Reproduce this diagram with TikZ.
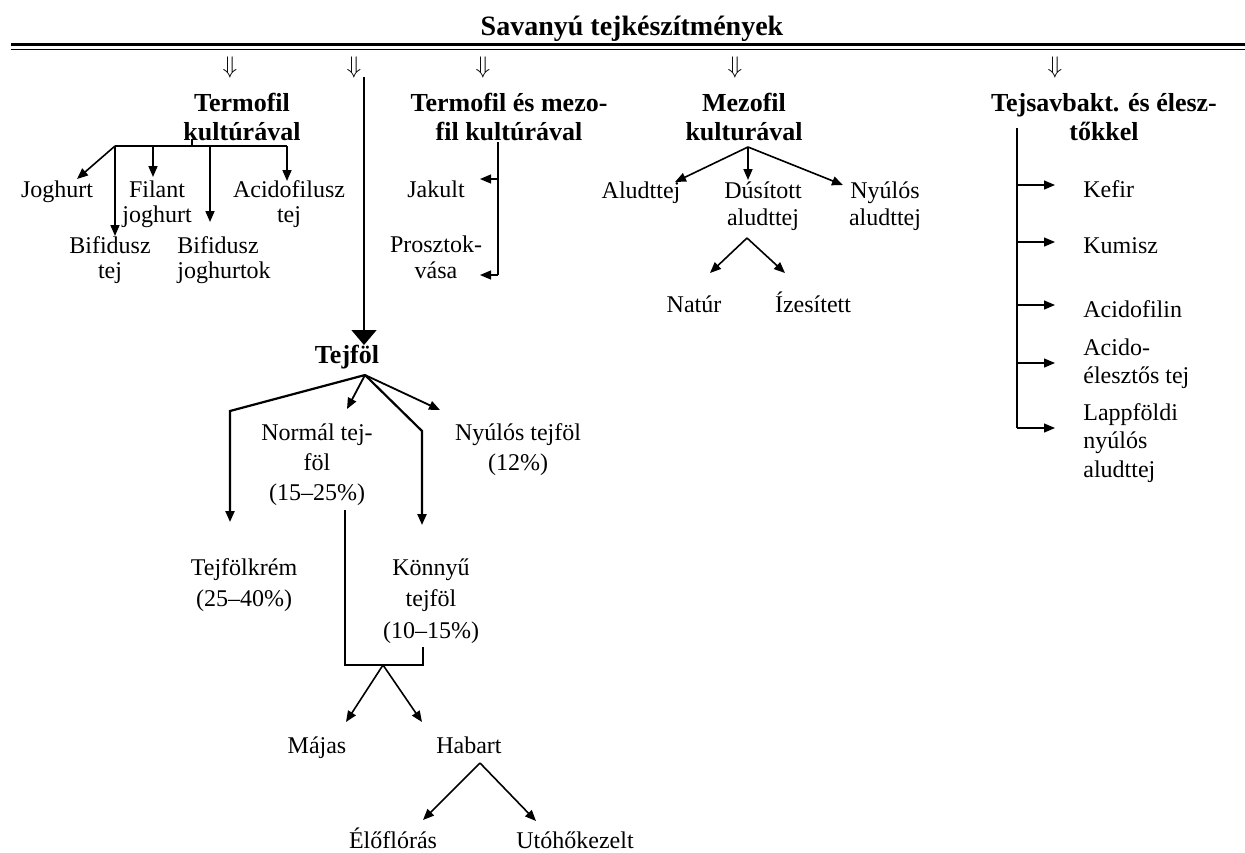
\documentclass[tikz,border=0pt]{standalone}
\usepackage{fontspec}
\setmainfont{Liberation Serif}
\usetikzlibrary{arrows.meta}
\begin{document}
\begin{tikzpicture}[x=0.5pt,y=-0.5pt,
  % labels are placed by the baseline of their last line
  lbl/.style={inner sep=0pt, align=center, anchor=base, font=\fontsize{12pt}{#1}\selectfont},
  lbl/.default=14pt,
  lbll/.style={lbl=#1, align=left, anchor=base west},
  lbll/.default=14pt,
  hd/.style={inner sep=0pt, align=center, anchor=base, font=\fontsize{13pt}{14.5pt}\selectfont\bfseries},
  dn/.style={inner sep=0pt, font=\fontsize{12pt}{14pt}\selectfont},
  tip/.style={-{Triangle[length=5.5pt,width=4.5pt]}},
  con/.style={line width=0.8pt, tip},
  thin/.style={line width=0.6pt},
  thick/.style={line width=1.1pt}
]
\useasboundingbox (0,0) rectangle (1245,852);

% title and double rule
\node[inner sep=0pt, anchor=base, font=\fontsize{14pt}{16pt}\selectfont\bfseries] (title) at (632,35) {Savanyú tejkészítmények};
\coordinate (rl1) at (11,44.7);  \coordinate (rr1) at (1245,44.7);
\coordinate (rl2) at (11,49.3);  \coordinate (rr2) at (1245,49.3);
\draw[line width=1.35pt] (rl1) -- (rr1);
\draw[line width=0.8pt] (rl2) -- (rr2);

% branch markers
\node[dn] (da1) at (230,67) {$\Downarrow$};
\node[dn] (da2) at (354,67) {$\Downarrow$};
\node[dn] (da3) at (483,67) {$\Downarrow$};
\node[dn] (da4) at (735,67) {$\Downarrow$};
\node[dn] (da5) at (1055,67) {$\Downarrow$};

% headings
\node[hd] (termo) at (242,140) {Termofil\\kultúrával};
\node[hd] (termez) at (509,140) {Termofil és mezo-\\fil kultúrával};
\node[hd] (mezo) at (744,140) {Mezofil\\kulturával};
\node[hd] (tejsav) at (1104,140) {Tejsavbakt. és élesz-\\tőkkel};

% --- termofil branch
\coordinate (t0) at (192,139);
\coordinate (t1) at (192,146);
\coordinate (tL) at (115,146);
\coordinate (tF) at (153,146);
\coordinate (tB) at (210,146);
\coordinate (tR) at (287,146);
\coordinate (aJog) at (77,179);
\coordinate (aBt) at (115,236);
\coordinate (aFil) at (153,177);
\coordinate (aBj) at (210,222);
\coordinate (aAc) at (287,181);
\draw[thin] (t0) -- (t1);
\draw[thin] (tL) -- (tR);
\draw[con] (tL) -- (aJog);
\draw[con] (tL) -- (aBt);
\draw[con] (tF) -- (aFil);
\draw[con] (tB) -- (aBj);
\draw[con] (tR) -- (aAc);
\node[lbl] (jog) at (57,197) {Joghurt};
\node[lbl=12.5pt] (fil) at (157,222) {Filant\\joghurt};
\node[lbl=12.5pt] (acf) at (289,222) {Acidofilusz\\tej};
\node[lbl=12.5pt] (bft) at (110,278) {Bifidusz\\tej};
\node[lbll=12.5pt] (bfj) at (177,278) {Bifidusz\\joghurtok};

% --- trunk to tejföl
\coordinate (tr0) at (364,77);
\coordinate (tr1) at (364,345);
\draw[line width=0.75pt, -{Triangle[length=7.5pt,width=12.5pt]}] (tr0) -- (tr1);
\node[hd] (tejfol) at (347,363) {Tejföl};

% --- termofil és mezofil branch
\coordinate (m0) at (498,142);
\coordinate (mJ) at (498,179);
\coordinate (mP) at (498,275);
\coordinate (aJak) at (480,179);
\coordinate (aPro) at (480,275);
\draw[thin] (m0) -- (mP);
\draw[thin, tip] (mJ) -- (aJak);
\draw[thin, tip] (mP) -- (aPro);
\node[lbl] (jak) at (436,197) {Jakult};
\node[lbl=13pt] (pro) at (436,278) {Prosztok-\\vása};

% --- mezofil branch
\coordinate (z0) at (748,147);
\coordinate (aAlu) at (675,182);
\coordinate (aDus) at (748,180);
\coordinate (aNyu) at (843,185);
\draw[con] (z0) -- (aAlu);
\draw[con] (z0) -- (aDus);
\draw[con] (z0) -- (aNyu);
\node[lbl] (alu) at (641,198) {Aludttej};
\node[lbl=13.5pt] (dus) at (763,225) {Dúsított\\aludttej};
\node[lbl=13.5pt] (nya) at (885,225) {Nyúlós\\aludttej};
\coordinate (z1) at (747,238);
\coordinate (aNat) at (710,273);
\coordinate (aIze) at (785,273);
\draw[con] (z1) -- (aNat);
\draw[con] (z1) -- (aIze);
\node[lbl] (nat) at (694,312) {Natúr};
\node[lbl] (ize) at (813,312) {Ízesített};

% --- tejsavbaktérium és élesztő branch
\coordinate (k0) at (1017,128);
\coordinate (k1) at (1017,185);
\coordinate (k2) at (1017,242);
\coordinate (k3) at (1017,305);
\coordinate (k4) at (1017,363);
\coordinate (k5) at (1017,428);
\coordinate (ak1) at (1055,185);
\coordinate (ak2) at (1055,242);
\coordinate (ak3) at (1055,305);
\coordinate (ak4) at (1055,363);
\coordinate (ak5) at (1055,428);
\draw[thin] (k0) -- (k5);
\foreach \i in {1,...,5} \draw[thin, tip] (k\i) -- (ak\i);
\node[lbll] (kef) at (1083,197) {Kefir};
\node[lbll] (kum) at (1083,253) {Kumisz};
\node[lbll] (acl) at (1083,317) {Acidofilin};
\node[lbll] (ace) at (1083,383) {Acido-\\élesztős tej};
\node[lbll=14.25pt] (lap) at (1083,477) {Lappföldi\\nyúlós\\aludttej};

% --- tejföl branch
\coordinate (f0) at (365,375);
\coordinate (fL) at (230,411);
\coordinate (aKrem) at (230,522);
\coordinate (aNorm) at (347,409);
\coordinate (fR) at (422,431);
\coordinate (aKon) at (422,525);
\coordinate (aNyt) at (440,410);
\draw[thick, tip] (f0) -- (fL) -- (aKrem);
\draw[thick, tip] (f0) -- (fR) -- (aKon);
\draw[line width=0.9pt, tip] (f0) -- (aNorm);
\draw[line width=0.9pt, tip] (f0) -- (aNyt);
\node[lbl=15pt] (norm) at (317,500) {Normál tej-\\föl\\(15–25\%)};
\node[lbl=15pt] (nyt) at (518,470) {Nyúlós tejföl\\(12\%)};
\node[lbl=15.5pt] (krem) at (244,606) {Tejfölkrém\\(25–40\%)};
\node[lbl=15.75pt] (kon) at (431,638) {Könnyű\\tejföl\\(10–15\%)};

% join of normál and könnyű
\coordinate (b0) at (345,510);
\coordinate (b1) at (345,665);
\coordinate (b2) at (423,665);
\coordinate (b3) at (423,647);
\coordinate (bm) at (383,665);
\draw[line width=1pt] (b0) -- (b1) -- (b2) -- (b3);
\coordinate (aMaj) at (346,722);
\coordinate (aHab) at (422,722);
\draw[con] (bm) -- (aMaj);
\draw[con] (bm) -- (aHab);
\node[lbl] (maj) at (317,753) {Májas};
\node[lbl] (hab) at (469,753) {Habart};

\coordinate (h0) at (480,763);
\coordinate (aElo) at (423,820);
\coordinate (aUto) at (536,821);
\draw[con] (h0) -- (aElo);
\draw[con] (h0) -- (aUto);
\node[lbl] (elo) at (393,848) {Élőflórás};
\node[lbl] (uto) at (575,848) {Utóhőkezelt};
\end{tikzpicture}
\end{document}
